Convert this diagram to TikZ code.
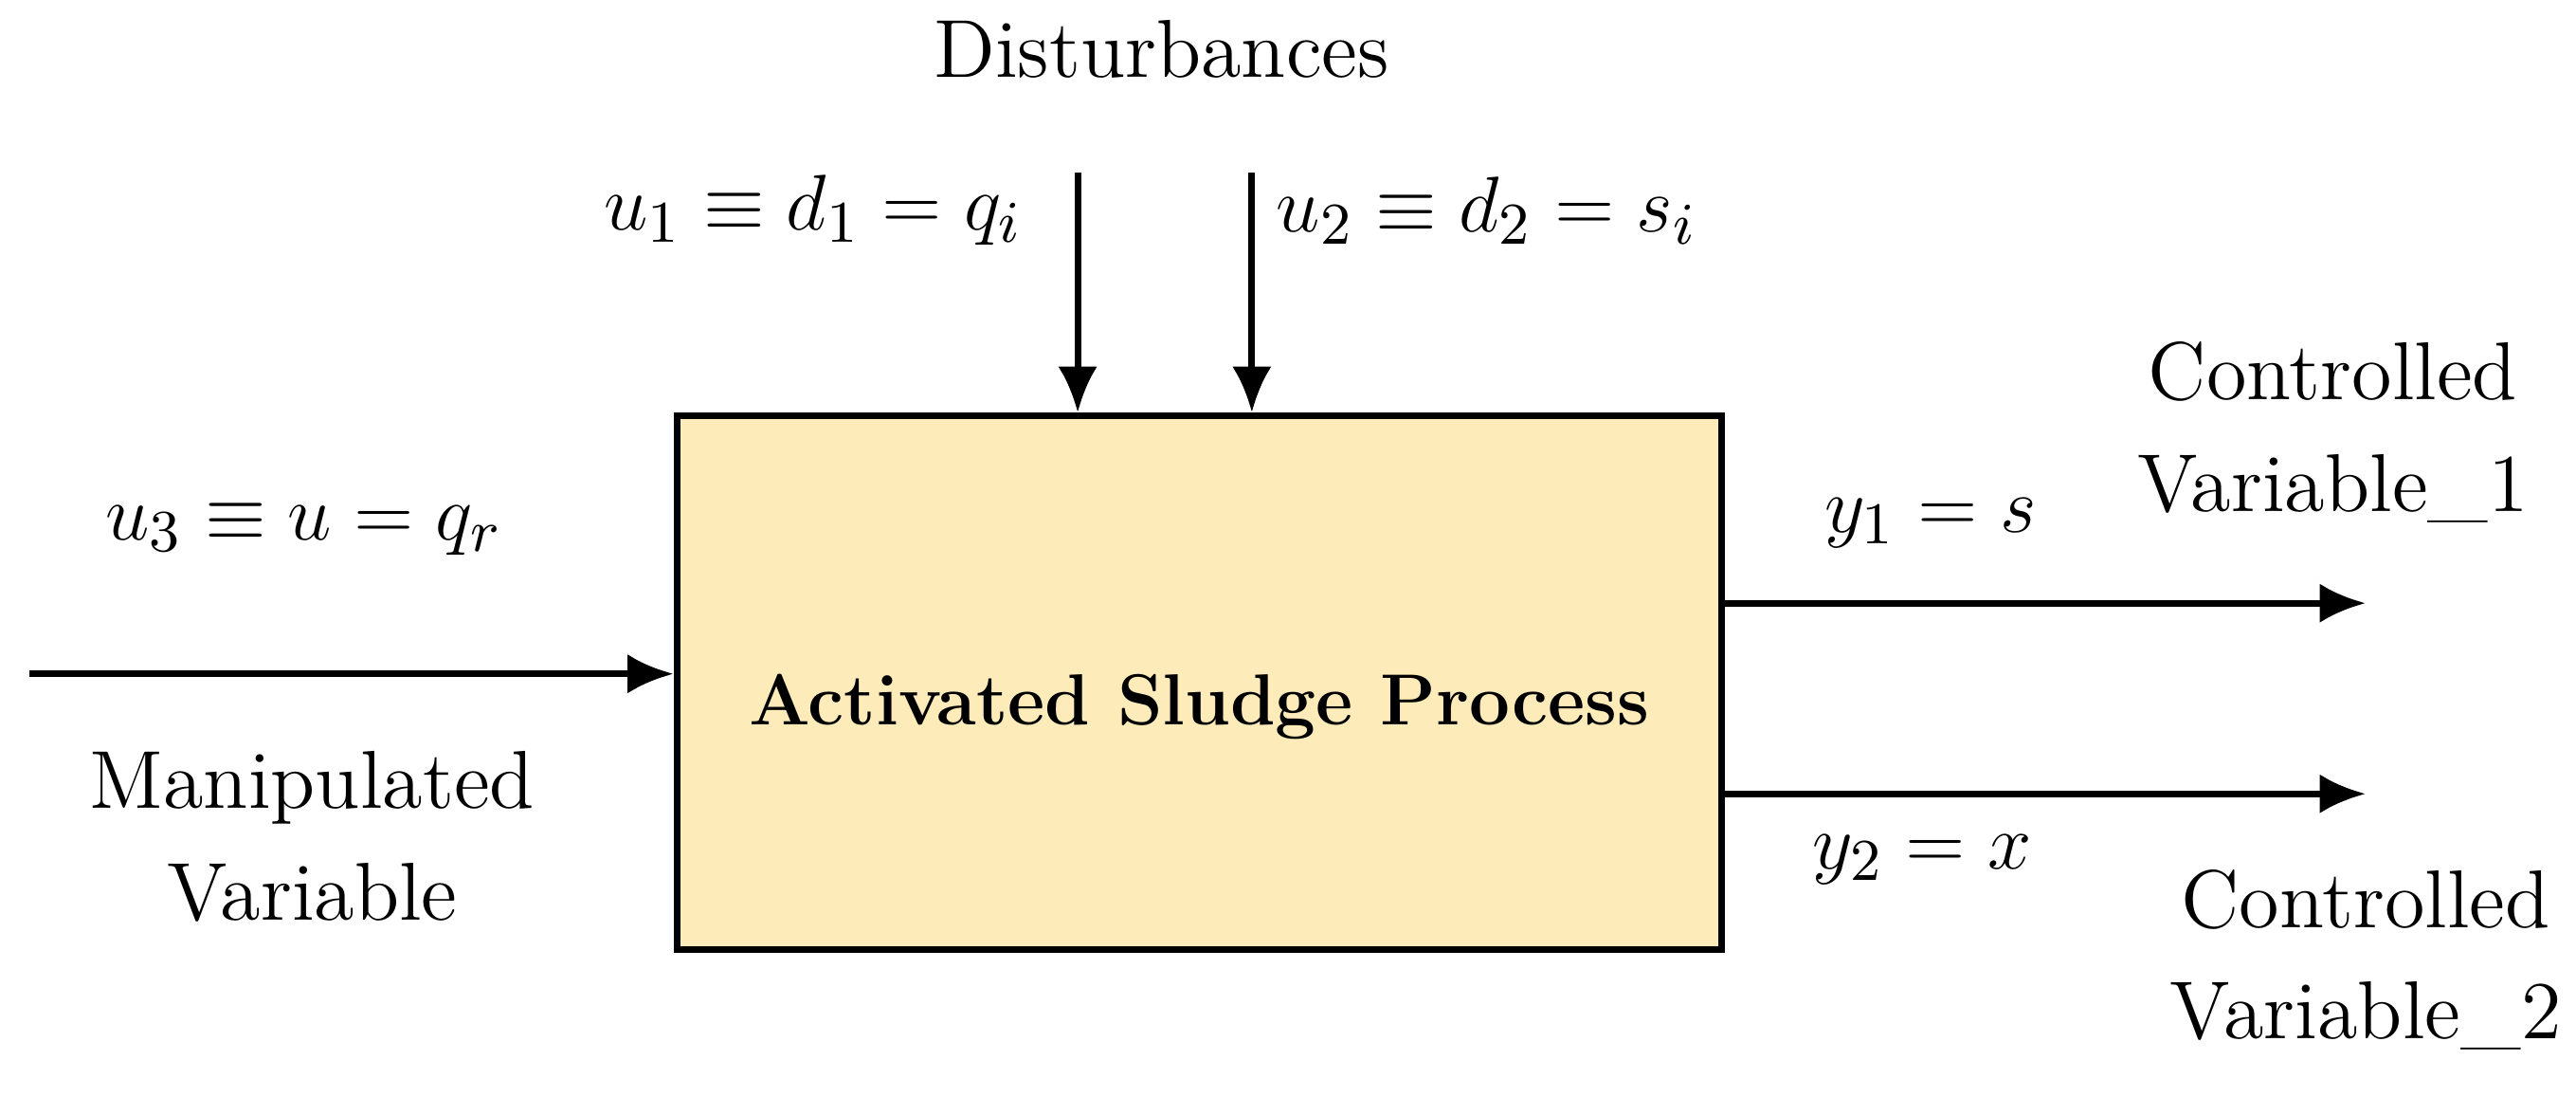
\documentclass[tikz,border=0pt]{standalone}
\usepackage{amssymb}
\begin{document}
\begin{tikzpicture}[x=0.25pt,y=-0.25pt,
  lbl/.style={font=\fontsize{12.5}{17}\selectfont,align=center,inner sep=0},
  arr/.style={line width=1pt,-{Latex[length=7pt,width=6pt]}}]
\usetikzlibrary{arrows.meta}
\useasboundingbox (0,0) rectangle (1568,678);
\node[draw,line width=1pt,fill={rgb,255:red,253;green,235;blue,185},minimum width=636*0.25pt,minimum height=325*0.25pt,inner sep=0] (box) at (730,415.5) {};
\node[lbl,font=\fontsize{11}{15}\selectfont\bfseries] (t) at (730,430) {Activated Sludge Process};
\coordinate (d1) at (656,105); \coordinate (d2) at (762,105);
\draw[arr] (d1) -- (box.north -| d1);
\draw[arr] (d2) -- (box.north -| d2);
\coordinate (in) at (18,410);
\draw[arr] (in) -- (box.west |- in);
\coordinate (o1) at (1440,367); \coordinate (o2) at (1440,483);
\draw[arr] (box.east |- o1) -- (o1);
\draw[arr] (box.east |- o2) -- (o2);
\node[lbl] (dist) at (707,30) {Disturbances};
\node[lbl] (l1) at (495,128) {$u_1\equiv d_1=q_i$};
\node[lbl] (l2) at (905,128) {$u_2\equiv d_2=s_i$};
\node[lbl] (l3) at (185,322) {$u_3\equiv u=q_r$};
\node[lbl] (mv) at (190,509) {Manipulated\\Variable};
\node[lbl] (y1) at (1175,318) {$y_1=s$};
\node[lbl] (c1) at (1420,263) {Controlled\\Variable\_1};
\node[lbl] (y2) at (1170,523) {$y_2=x$};
\node[lbl] (c2) at (1440,584) {Controlled\\Variable\_2};
\end{tikzpicture}
\end{document}
